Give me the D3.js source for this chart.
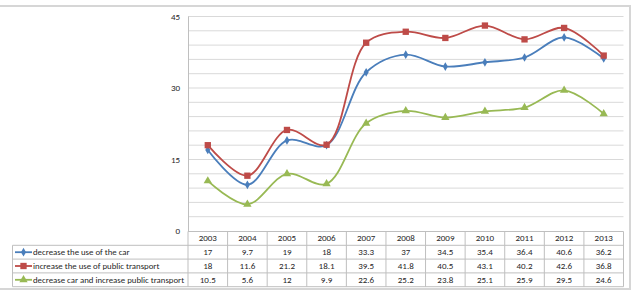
<!DOCTYPE html>
<html>
<head>
  <meta charset="utf-8">
  <script src="https://d3js.org/d3.v7.min.js"></script>
  <style>
    body { margin: 0; background: #fff; }
    svg text { font-family: Carlito, "Liberation Sans", sans-serif; fill: #262626; }
  </style>
</head>
<body>
  <div id="chart"></div>
  <script>
    var years = ['2003', '2004', '2005', '2006', '2007', '2008', '2009', '2010', '2011', '2012', '2013'];
    var seriesNames = ['decrease the use of the car', 'increase the use of public transport', 'decrease car and increase public transport'];
    var carValues = [17, 9.7, 19, 18, 33.3, 37, 34.5, 35.4, 36.4, 40.6, 36.2];
    var transportValues = [18, 11.6, 21.2, 18.1, 39.5, 41.8, 40.5, 43.1, 40.2, 42.6, 36.8];
    var bothValues = [10.5, 5.6, 12, 9.9, 22.6, 25.2, 23.8, 25.1, 25.9, 29.5, 24.6];
    var yTicks = [0, 15, 30, 45];

    var width = 636, height = 293;
    var colors = ['#4a7ebb', '#be4b48', '#98b954'];
    var symbols = [d3.symbolDiamond, d3.symbolSquare, d3.symbolTriangle];
    var symSizes = [22, 40, 30];

    var series = seriesNames.map(function(n, i) {
      return { name: n, values: [carValues, transportValues, bothValues][i] };
    });

    var svg = d3.select('#chart').append('svg')
      .attr('width', width).attr('height', height);

    // outer frame
    svg.append('rect')
      .attr('x', -4).attr('y', 6).attr('width', 634).attr('height', 283)
      .attr('fill', 'none').attr('stroke', '#d6d6d6').attr('stroke-width', 2);

    var x = d3.scaleBand().domain(years).range([188, 623.5]);
    var y = d3.scaleLinear().domain([0, 45]).range([231, 16.5]);

    // gridlines every 3
    svg.append('g').selectAll('line')
      .data(d3.range(3, 46, 3))
      .enter().append('line')
      .attr('x1', 188).attr('x2', 623.5)
      .attr('y1', function(d) { return y(d); })
      .attr('y2', function(d) { return y(d); })
      .attr('stroke', '#d9d9d9').attr('stroke-width', 1);

    svg.append('line')
      .attr('x1', 188.5).attr('x2', 188.5).attr('y1', y(45)).attr('y2', y(0))
      .attr('stroke', '#bfbfbf');

    var yAxis = svg.append('g')
      .attr('transform', 'translate(188,0)')
      .call(d3.axisLeft(y).tickValues(yTicks).tickSize(0).tickPadding(8));
    yAxis.select('.domain').remove();
    yAxis.selectAll('text').style('font-size', '9px').attr('fill', '#262626');

    // lines
    var line = d3.line()
      .x(function(d, i) { return x(years[i]) + x.bandwidth() / 2; })
      .y(function(d) { return y(d); })
      .curve(d3.curveCatmullRom.alpha(0.5));

    series.forEach(function(s, k) {
      svg.append('path')
        .datum(s.values)
        .attr('d', line)
        .attr('fill', 'none')
        .attr('stroke', colors[k])
        .attr('stroke-width', 1.8);

      svg.append('g').selectAll('path')
        .data(s.values)
        .enter().append('path')
        .attr('d', d3.symbol().type(symbols[k]).size(symSizes[k]))
        .attr('transform', function(d, i) {
          return 'translate(' + (x(years[i]) + x.bandwidth() / 2) + ',' + y(d) + ')';
        })
        .attr('fill', colors[k]);
    });

    // data table
    var rowH = 13.8, tableTop = 231.5, legendLeft = 12.5;
    var table = svg.append('g');
    var gridColor = '#bfbfbf';

    // horizontal lines
    table.append('line')
      .attr('x1', 188).attr('x2', 623.5).attr('y1', tableTop).attr('y2', tableTop)
      .attr('stroke', gridColor);
    d3.range(1, 5).forEach(function(r) {
      table.append('line')
        .attr('x1', legendLeft).attr('x2', 623.5)
        .attr('y1', tableTop + r * rowH).attr('y2', tableTop + r * rowH)
        .attr('stroke', gridColor);
    });
    // vertical lines
    years.concat(['end']).forEach(function(yr, i) {
      var xx = i < years.length ? x(yr) : x.range()[1];
      table.append('line')
        .attr('x1', xx).attr('x2', xx)
        .attr('y1', tableTop).attr('y2', tableTop + 4 * rowH)
        .attr('stroke', gridColor);
    });
    table.append('line')
      .attr('x1', legendLeft).attr('x2', legendLeft)
      .attr('y1', tableTop + rowH).attr('y2', tableTop + 4 * rowH)
      .attr('stroke', gridColor);

    // header
    table.selectAll('.yr')
      .data(years).enter().append('text')
      .attr('x', function(d) { return x(d) + x.bandwidth() / 2; })
      .attr('y', tableTop + rowH / 2 + 3)
      .attr('text-anchor', 'middle')
      .style('font-size', '9px')
      .text(function(d) { return d; });

    series.forEach(function(s, k) {
      var cy = tableTop + (k + 1.5) * rowH;
      table.append('line')
        .attr('x1', 15).attr('x2', 32).attr('y1', cy).attr('y2', cy)
        .attr('stroke', colors[k]).attr('stroke-width', 1.8);
      table.append('path')
        .attr('d', d3.symbol().type(symbols[k]).size(symSizes[k])())
        .attr('transform', 'translate(23.5,' + cy + ')')
        .attr('fill', colors[k]);
      table.append('text')
        .attr('x', 33).attr('y', cy + 3)
        .style('font-size', '8.8px')
        .text(s.name);
      table.append('g').selectAll('text')
        .data(s.values).enter().append('text')
        .attr('x', function(d, i) { return x(years[i]) + x.bandwidth() / 2; })
        .attr('y', cy + 3)
        .attr('text-anchor', 'middle')
        .style('font-size', '9px')
        .text(function(d) { return d; });
    });
  </script>
</body>
</html>
